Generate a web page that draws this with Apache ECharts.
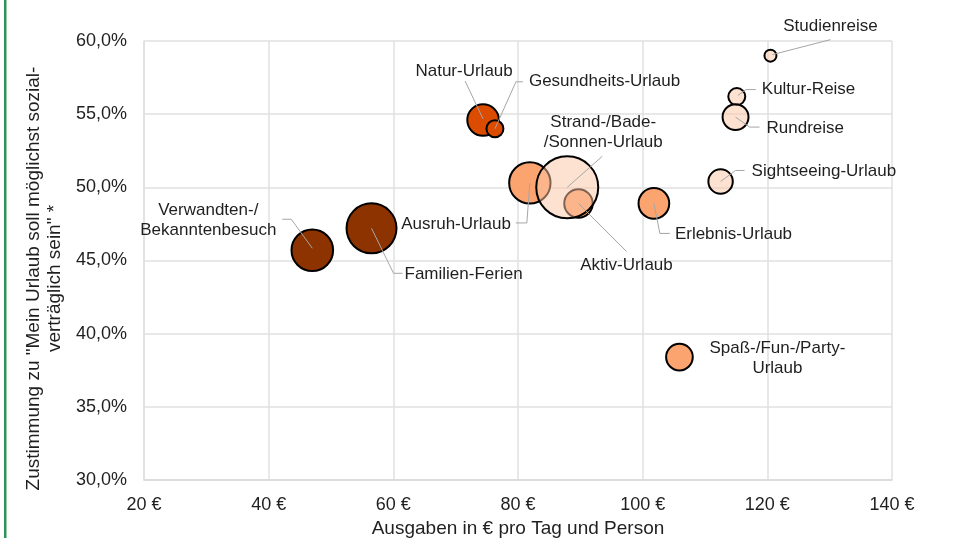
<!DOCTYPE html>
<html>
<head>
<meta charset="utf-8">
<script src="https://cdn.jsdelivr.net/npm/echarts@6/dist/echarts.min.js"></script>
<style>
  html, body { margin: 0; padding: 0; background: #fff; }
  #chart { width: 964px; height: 538px; }
</style>
</head>
<body>
<div id="chart"></div>
<script>
// Urlaubsarten: Ausgaben pro Tag/Person vs. Zustimmung "sozialverträglich"
const names = [
  'Verwandten-/\nBekanntenbesuch', 'Familien-Ferien', 'Natur-Urlaub', 'Gesundheits-Urlaub',
  'Ausruh-Urlaub', 'Aktiv-Urlaub', 'Erlebnis-Urlaub', 'Spaß-/Fun-/Party-\nUrlaub',
  'Strand-/Bade-\n/Sonnen-Urlaub', 'Sightseeing-Urlaub', 'Kultur-Reise', 'Rundreise', 'Studienreise'
]
const spending = [47.0, 56.5, 74.4, 76.3, 81.9, 89.7, 101.8, 105.9, 87.9, 112.5, 115.1, 114.9, 120.5]
const agreement = [45.7, 47.2, 54.6, 54.0, 50.3, 48.9, 48.9, 38.4, 50.0, 50.4, 56.2, 54.8, 59.0]
const share = [9.0, 13.0, 5.2, 1.5, 8.9, 4.2, 4.9, 3.7, 20.0, 3.1, 1.5, 3.5, 0.75]
const group = [0, 0, 1, 1, 2, 2, 2, 2, 3, 3, 3, 3, 3]
const xTicks = [20, 40, 60, 80, 100, 120, 140]
const yTicks = [30, 35, 40, 45, 50, 55, 60]

const groupColors = ['#8c3300', '#db4c00', '#fca470', 'rgba(251,197,165,0.5)']
const font = 'Liberation Sans, Arial, sans-serif'
const textColor = '#1f1f1f'

// label offsets (px) from bubble centre, plus leader line points
const labelPos = [
  { dx: -104, dy: -30, align: 'center', guide: [[-30, -31], [-21, -31], [0, -2]] },
  { dx: 33, dy: 46, align: 'left', guide: [[0, 0], [22, 45], [31, 45]] },
  { dx: -19, dy: -49, align: 'center', guide: [[-18, -39], [0, -1]] },
  { dx: 34, dy: -47, align: 'left', guide: [[28, -47], [21, -47], [0, 0]] },
  { dx: -19, dy: 41, align: 'right', guide: [[-14, 40], [-3, 40], [0, 0]] },
  { dx: 48, dy: 62, align: 'center', guide: [[0, 0], [48, 48]] },
  { dx: 21, dy: 31, align: 'left', guide: [[0, 0], [6, 30], [16, 30]] },
  { dx: 98, dy: 1, align: 'center', guide: null },
  { dx: 36, dy: -55, align: 'center', guide: [[35, -31], [0, 0]] },
  { dx: 31, dy: -10, align: 'left', guide: [[0, 0], [15, -11], [24, -11]] },
  { dx: 25, dy: -7, align: 'left', guide: [[1, -1], [9, -7], [19, -7]] },
  { dx: 31, dy: 11, align: 'left', guide: [[0, 0], [14, 10], [24, 10]] },
  { dx: 60, dy: -29, align: 'center', guide: [[2, -1], [60, -16]] },
]

var myChart = echarts.init(document.getElementById('chart'))

const bubbleSeries = groupColors.map((color, g) => {
  const data = []
  names.forEach((n, i) => {
    if (group[i] === g) data.push([spending[i], agreement[i], share[i], n])
  })
  return {
    type: 'scatter',
    z: 2,
    data: data,
    symbol: 'circle',
    symbolSize: d => 62 * Math.sqrt(d[2] / 20),
    itemStyle: {
      color: color,
      borderColor: '#000',
      borderWidth: 2,
      opacity: 1,
    },
    emphasis: { disabled: true },
  }
})

const labelSeries = {
  type: 'custom',
  z: 5,
  silent: true,
  data: names.map((n, i) => [spending[i], agreement[i], i]),
  renderItem: function (params, api) {
    const i = api.value(2)
    const p = api.coord([api.value(0), api.value(1)])
    const lp = labelPos[i]
    const children = []
    if (lp.guide) {
      children.push({
        type: 'polyline',
        shape: { points: lp.guide.map(o => [p[0] + o[0], p[1] + o[1]]) },
        style: { stroke: '#a6a6a6', lineWidth: 1, fill: null },
      })
    }
    children.push({
      type: 'text',
      style: {
        text: names[i],
        x: p[0] + lp.dx,
        y: p[1] + lp.dy,
        align: lp.align,
        verticalAlign: 'middle',
        fontSize: 17,
        lineHeight: 19.5,
        fontFamily: font,
        fill: textColor,
      },
    })
    return { type: 'group', children: children }
  },
}

var option = {
  animation: false,
  backgroundColor: '#fff',
  grid: {
    left: 144,
    right: 72,
    top: 41,
    bottom: 58,
    outerBoundsMode: 'none',
  },
  xAxis: {
    type: 'value',
    min: xTicks[0],
    max: xTicks[xTicks.length - 1],
    interval: 20,
    name: 'Ausgaben in € pro Tag und Person',
    nameLocation: 'middle',
    nameGap: 38,
    nameTextStyle: { color: textColor, fontSize: 19, fontFamily: font },
    axisLine: { show: true, lineStyle: { color: '#d9d9d9', width: 1.5 } },
    axisTick: { show: false },
    splitLine: { show: true, lineStyle: { color: '#e0e0e0', width: 1.5 } },
    axisLabel: {
      margin: 16,
      color: textColor,
      fontSize: 18,
      fontFamily: font,
      formatter: v => v + ' €',
    },
  },
  yAxis: {
    type: 'value',
    min: yTicks[0],
    max: yTicks[yTicks.length - 1],
    interval: 5,
    name: 'Zustimmung zu "Mein Urlaub soll möglichst sozial-\nverträglich sein" *',
    nameLocation: 'middle',
    nameRotate: 90,
    nameGap: 70,
    nameTextStyle: {
      color: textColor,
      fontSize: 19,
      lineHeight: 21,
      fontFamily: font,
      align: 'center',
      padding: [0, 36, 0, 0],
    },
    axisLine: { show: true, lineStyle: { color: '#e0e0e0', width: 1.5 } },
    axisTick: { show: false },
    splitLine: { show: true, lineStyle: { color: '#e0e0e0', width: 1.5 } },
    axisLabel: {
      margin: 17,
      color: textColor,
      fontSize: 18,
      fontFamily: font,
      formatter: v => v.toFixed(1).replace('.', ',') + '%',
    },
  },
  graphic: [
    {
      type: 'rect',
      left: 4,
      top: 0,
      shape: { width: 2.5, height: 538 },
      style: { fill: '#2f9456' },
    },
  ],
  series: bubbleSeries.concat([labelSeries]),
}
myChart.setOption(option)
window.onresize = myChart.resize
</script>
</body>
</html>
